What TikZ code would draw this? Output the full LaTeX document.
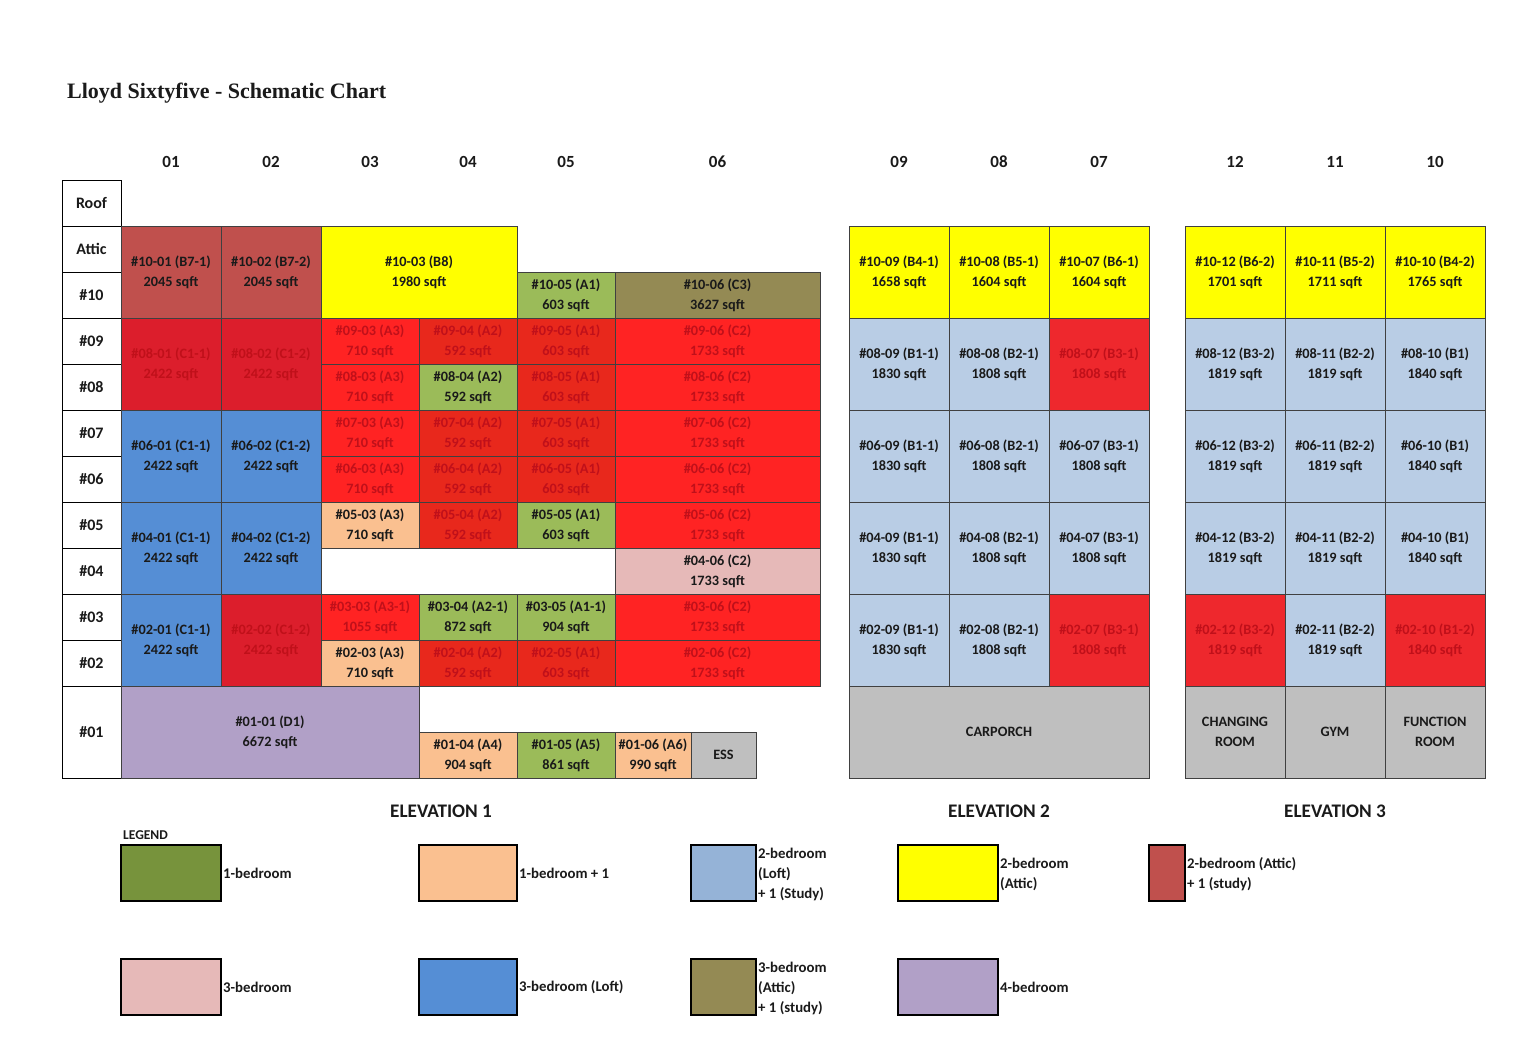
\documentclass[tikz,border=0pt]{standalone}
\usepackage{fontspec}
\setmainfont{Carlito}
\newfontfamily\titlefont{Liberation Serif}
\definecolor{brownred}{HTML}{C0504D}
\definecolor{yel}{HTML}{FFFF00}
\definecolor{grn}{HTML}{9BBB59}
\definecolor{lgrn}{HTML}{77933C}
\definecolor{olive}{HTML}{948A54}
\definecolor{crim}{HTML}{DC1E2C}
\definecolor{redA}{HTML}{FF2323}
\definecolor{redB}{HTML}{E8281C}
\definecolor{redC}{HTML}{EE282D}
\definecolor{redtxt}{HTML}{C0101A}
\definecolor{blu}{HTML}{558ED5}
\definecolor{lblu}{HTML}{B9CDE5}
\definecolor{lblu2}{HTML}{95B3D7}
\definecolor{peach}{HTML}{FAC090}
\definecolor{pink}{HTML}{E6B9B8}
\definecolor{lav}{HTML}{B1A0C7}
\definecolor{gry}{HTML}{BFBFBF}
\definecolor{ink}{HTML}{1A1A1A}
\tikzset{
  cell/.style={draw=black!75, line width=0.9pt, inner sep=0pt, outer sep=0pt, align=center, font=\fontsize{14.3}{20}\selectfont\bfseries},
  lab/.style={draw=black, line width=0.9pt, fill=white, inner sep=0pt, outer sep=0pt, text=ink, font=\fontsize{16}{20}\selectfont\bfseries},
  hdr/.style={inner sep=0pt, text=ink, font=\fontsize{17}{20}\selectfont\bfseries},
  elev/.style={inner sep=0pt, text=ink, font=\fontsize{19.2}{22}\selectfont\bfseries},
  legbox/.style={draw=black, line width=1.8pt, inner sep=0pt, outer sep=0pt},
  legtxt/.style={anchor=west, inner sep=0pt, align=left, text=ink, font=\fontsize{14.8}{20}\selectfont\bfseries}
}
\newcommand{\cellbox}[8]{%
  \node[cell, fill=#6, text=#7, minimum width={(#4)-(#2)}, minimum height={(#5)-(#3)}] (#1) at ({((#2)+(#4))/2},{((#3)+(#5))/2}) {#8};}
\newcommand{\legsq}[6]{%
  \node[legbox, fill=#6, minimum width={(#4)-(#2)}, minimum height={(#5)-(#3)}] (#1) at ({((#2)+(#4))/2},{((#3)+(#5))/2}) {};}
\begin{document}
\begin{tikzpicture}[x=1pt,y=-1pt]
\useasboundingbox (0,0) rectangle (1533,1041);
\fill[white] (0,0) rectangle (1533,1041);
% title
\node[anchor=base west, inner sep=0pt, text=ink, font=\titlefont\fontsize{22}{24}\selectfont\bfseries] (title) at (67,98) {Lloyd Sixtyfive - Schematic Chart};
% column headers
\foreach \n/\x in {01/171,02/271,03/370,04/468,05/566,06/717.5,09/899,08/999,07/1099,12/1235,11/1335,10/1435}
  \node[hdr] (h\n) at (\x,162) {\n};
% row labels
\foreach \t/\nm/\ya/\yb in {Roof/roof/180/226,Attic/attic/226/272,\#10/r10/272/318,\#09/r09/318/364,\#08/r08/364/410,\#07/r07/410/456,\#06/r06/456/502,\#05/r05/502/548,\#04/r04/548/594,\#03/r03/594/640,\#02/r02/640/686,\#01/r01/686/778}
  \node[lab, minimum width=59, minimum height={\yb-\ya}] (\nm) at (91.5,{(\ya+\yb)/2}) {\t};
% ===== Elevation 1 =====
\cellbox{u1001}{121}{226}{221}{318}{brownred}{ink}{\#10-01 (B7-1)\\2045 sqft}
\cellbox{u1002}{221}{226}{321}{318}{brownred}{ink}{\#10-02 (B7-2)\\2045 sqft}
\cellbox{u1003}{321}{226}{517}{318}{yel}{ink}{\#10-03 (B8)\\1980 sqft}
\cellbox{u1005}{517}{272}{615}{318}{grn}{ink}{\#10-05 (A1)\\603 sqft}
\cellbox{u1006}{615}{272}{820}{318}{olive}{ink}{\#10-06 (C3)\\3627 sqft}
\cellbox{u0801}{121}{318}{221}{410}{crim}{redtxt}{\#08-01 (C1-1)\\2422 sqft}
\cellbox{u0802}{221}{318}{321}{410}{crim}{redtxt}{\#08-02 (C1-2)\\2422 sqft}
\cellbox{u0903}{321}{318}{419}{364}{redA}{redtxt}{\#09-03 (A3)\\710 sqft}
\cellbox{u0904}{419}{318}{517}{364}{redB}{redtxt}{\#09-04 (A2)\\592 sqft}
\cellbox{u0905}{517}{318}{615}{364}{redB}{redtxt}{\#09-05 (A1)\\603 sqft}
\cellbox{u0906}{615}{318}{820}{364}{redA}{redtxt}{\#09-06 (C2)\\1733 sqft}
\cellbox{u0803}{321}{364}{419}{410}{redA}{redtxt}{\#08-03 (A3)\\710 sqft}
\cellbox{u0804}{419}{364}{517}{410}{grn}{ink}{\#08-04 (A2)\\592 sqft}
\cellbox{u0805}{517}{364}{615}{410}{redB}{redtxt}{\#08-05 (A1)\\603 sqft}
\cellbox{u0806}{615}{364}{820}{410}{redA}{redtxt}{\#08-06 (C2)\\1733 sqft}
\cellbox{u0601}{121}{410}{221}{502}{blu}{ink}{\#06-01 (C1-1)\\2422 sqft}
\cellbox{u0602}{221}{410}{321}{502}{blu}{ink}{\#06-02 (C1-2)\\2422 sqft}
\cellbox{u0703}{321}{410}{419}{456}{redA}{redtxt}{\#07-03 (A3)\\710 sqft}
\cellbox{u0704}{419}{410}{517}{456}{redB}{redtxt}{\#07-04 (A2)\\592 sqft}
\cellbox{u0705}{517}{410}{615}{456}{redB}{redtxt}{\#07-05 (A1)\\603 sqft}
\cellbox{u0706}{615}{410}{820}{456}{redA}{redtxt}{\#07-06 (C2)\\1733 sqft}
\cellbox{u0603}{321}{456}{419}{502}{redA}{redtxt}{\#06-03 (A3)\\710 sqft}
\cellbox{u0604}{419}{456}{517}{502}{redB}{redtxt}{\#06-04 (A2)\\592 sqft}
\cellbox{u0605}{517}{456}{615}{502}{redB}{redtxt}{\#06-05 (A1)\\603 sqft}
\cellbox{u0606}{615}{456}{820}{502}{redA}{redtxt}{\#06-06 (C2)\\1733 sqft}
\cellbox{u0401}{121}{502}{221}{594}{blu}{ink}{\#04-01 (C1-1)\\2422 sqft}
\cellbox{u0402}{221}{502}{321}{594}{blu}{ink}{\#04-02 (C1-2)\\2422 sqft}
\cellbox{u0503}{321}{502}{419}{548}{peach}{ink}{\#05-03 (A3)\\710 sqft}
\cellbox{u0504}{419}{502}{517}{548}{redB}{redtxt}{\#05-04 (A2)\\592 sqft}
\cellbox{u0505}{517}{502}{615}{548}{grn}{ink}{\#05-05 (A1)\\603 sqft}
\cellbox{u0506}{615}{502}{820}{548}{redA}{redtxt}{\#05-06 (C2)\\1733 sqft}
\cellbox{u0406}{615}{548}{820}{594}{pink}{ink}{\#04-06 (C2)\\1733 sqft}
\cellbox{u0201}{121}{594}{221}{686}{blu}{ink}{\#02-01 (C1-1)\\2422 sqft}
\cellbox{u0202}{221}{594}{321}{686}{crim}{redtxt}{\#02-02 (C1-2)\\2422 sqft}
\cellbox{u0303}{321}{594}{419}{640}{redA}{redtxt}{\#03-03 (A3-1)\\1055 sqft}
\cellbox{u0304}{419}{594}{517}{640}{grn}{ink}{\#03-04 (A2-1)\\872 sqft}
\cellbox{u0305}{517}{594}{615}{640}{grn}{ink}{\#03-05 (A1-1)\\904 sqft}
\cellbox{u0306}{615}{594}{820}{640}{redA}{redtxt}{\#03-06 (C2)\\1733 sqft}
\cellbox{u0203}{321}{640}{419}{686}{peach}{ink}{\#02-03 (A3)\\710 sqft}
\cellbox{u0204}{419}{640}{517}{686}{redB}{redtxt}{\#02-04 (A2)\\592 sqft}
\cellbox{u0205}{517}{640}{615}{686}{redB}{redtxt}{\#02-05 (A1)\\603 sqft}
\cellbox{u0206}{615}{640}{820}{686}{redA}{redtxt}{\#02-06 (C2)\\1733 sqft}
\cellbox{u0101}{121}{686}{419}{778}{lav}{ink}{\#01-01 (D1)\\6672 sqft}
\cellbox{u0104}{419}{732}{517}{778}{peach}{ink}{\#01-04 (A4)\\904 sqft}
\cellbox{u0105}{517}{732}{615}{778}{grn}{ink}{\#01-05 (A5)\\861 sqft}
\cellbox{u0106}{615}{732}{691}{778}{peach}{ink}{\#01-06 (A6)\\990 sqft}
\cellbox{ess}{691}{732}{756}{778}{gry}{ink}{ESS}
% ===== Elevation 2 =====
\cellbox{u1009}{849}{226}{949}{318}{yel}{ink}{\#10-09 (B4-1)\\1658 sqft}
\cellbox{u1008}{949}{226}{1049}{318}{yel}{ink}{\#10-08 (B5-1)\\1604 sqft}
\cellbox{u1007}{1049}{226}{1149}{318}{yel}{ink}{\#10-07 (B6-1)\\1604 sqft}
\cellbox{u0809}{849}{318}{949}{410}{lblu}{ink}{\#08-09 (B1-1)\\1830 sqft}
\cellbox{u0808}{949}{318}{1049}{410}{lblu}{ink}{\#08-08 (B2-1)\\1808 sqft}
\cellbox{u0807}{1049}{318}{1149}{410}{redC}{redtxt}{\#08-07 (B3-1)\\1808 sqft}
\cellbox{u0609}{849}{410}{949}{502}{lblu}{ink}{\#06-09 (B1-1)\\1830 sqft}
\cellbox{u0608}{949}{410}{1049}{502}{lblu}{ink}{\#06-08 (B2-1)\\1808 sqft}
\cellbox{u0607}{1049}{410}{1149}{502}{lblu}{ink}{\#06-07 (B3-1)\\1808 sqft}
\cellbox{u0409}{849}{502}{949}{594}{lblu}{ink}{\#04-09 (B1-1)\\1830 sqft}
\cellbox{u0408}{949}{502}{1049}{594}{lblu}{ink}{\#04-08 (B2-1)\\1808 sqft}
\cellbox{u0407}{1049}{502}{1149}{594}{lblu}{ink}{\#04-07 (B3-1)\\1808 sqft}
\cellbox{u0209}{849}{594}{949}{686}{lblu}{ink}{\#02-09 (B1-1)\\1830 sqft}
\cellbox{u0208}{949}{594}{1049}{686}{lblu}{ink}{\#02-08 (B2-1)\\1808 sqft}
\cellbox{u0207}{1049}{594}{1149}{686}{redC}{redtxt}{\#02-07 (B3-1)\\1808 sqft}
\cellbox{carporch}{849}{686}{1149}{778}{gry}{ink}{CARPORCH}
% ===== Elevation 3 =====
\cellbox{u1012}{1185}{226}{1285}{318}{yel}{ink}{\#10-12 (B6-2)\\1701 sqft}
\cellbox{u1011}{1285}{226}{1385}{318}{yel}{ink}{\#10-11 (B5-2)\\1711 sqft}
\cellbox{u1010}{1385}{226}{1485}{318}{yel}{ink}{\#10-10 (B4-2)\\1765 sqft}
\cellbox{u0812}{1185}{318}{1285}{410}{lblu}{ink}{\#08-12 (B3-2)\\1819 sqft}
\cellbox{u0811}{1285}{318}{1385}{410}{lblu}{ink}{\#08-11 (B2-2)\\1819 sqft}
\cellbox{u0810}{1385}{318}{1485}{410}{lblu}{ink}{\#08-10 (B1)\\1840 sqft}
\cellbox{u0612}{1185}{410}{1285}{502}{lblu}{ink}{\#06-12 (B3-2)\\1819 sqft}
\cellbox{u0611}{1285}{410}{1385}{502}{lblu}{ink}{\#06-11 (B2-2)\\1819 sqft}
\cellbox{u0610}{1385}{410}{1485}{502}{lblu}{ink}{\#06-10 (B1)\\1840 sqft}
\cellbox{u0412}{1185}{502}{1285}{594}{lblu}{ink}{\#04-12 (B3-2)\\1819 sqft}
\cellbox{u0411}{1285}{502}{1385}{594}{lblu}{ink}{\#04-11 (B2-2)\\1819 sqft}
\cellbox{u0410}{1385}{502}{1485}{594}{lblu}{ink}{\#04-10 (B1)\\1840 sqft}
\cellbox{u0212}{1185}{594}{1285}{686}{redC}{redtxt}{\#02-12 (B3-2)\\1819 sqft}
\cellbox{u0211}{1285}{594}{1385}{686}{lblu}{ink}{\#02-11 (B2-2)\\1819 sqft}
\cellbox{u0210}{1385}{594}{1485}{686}{redC}{redtxt}{\#02-10 (B1-2)\\1840 sqft}
\cellbox{changing}{1185}{686}{1285}{778}{gry}{ink}{CHANGING\\ROOM}
\cellbox{gym}{1285}{686}{1385}{778}{gry}{ink}{GYM}
\cellbox{function}{1385}{686}{1485}{778}{gry}{ink}{FUNCTION\\ROOM}
% elevation captions
\node[elev] (el1) at (441,811) {ELEVATION 1};
\node[elev] (el2) at (999,811) {ELEVATION 2};
\node[elev] (el3) at (1335,811) {ELEVATION 3};
% legend
\node[anchor=west, inner sep=0pt, text=ink, font=\fontsize{13.5}{14}\selectfont\bfseries] (legend) at (123,835) {LEGEND};
\legsq{lg1}{121}{845}{221}{901}{lgrn}
\legsq{lg2}{419}{845}{517}{901}{peach}
\legsq{lg3}{691}{845}{756}{901}{lblu2}
\legsq{lg4}{898}{845}{998}{901}{yel}
\legsq{lg5}{1149}{845}{1185}{901}{brownred}
\legsq{lg6}{121}{959}{221}{1015}{pink}
\legsq{lg7}{419}{959}{517}{1015}{blu}
\legsq{lg8}{691}{959}{756}{1015}{olive}
\legsq{lg9}{898}{959}{998}{1015}{lav}
\node[legtxt] (lt1) at ([xshift=2pt]lg1.east) {1-bedroom};
\node[legtxt] (lt2) at ([xshift=2pt]lg2.east) {1-bedroom + 1};
\node[legtxt] (lt3) at ([xshift=2pt,yshift=-1pt]lg3.east) {2-bedroom\\(Loft)\\+ 1 (Study)};
\node[legtxt] (lt4) at ([xshift=2pt,yshift=-1pt]lg4.east) {2-bedroom\\(Attic)};
\node[legtxt] (lt5) at ([xshift=2pt,yshift=-1pt]lg5.east) {2-bedroom (Attic)\\+ 1 (study)};
\node[legtxt] (lt6) at ([xshift=2pt]lg6.east) {3-bedroom};
\node[legtxt] (lt7) at ([xshift=2pt]lg7.east) {3-bedroom (Loft)};
\node[legtxt] (lt8) at ([xshift=2pt,yshift=-1pt]lg8.east) {3-bedroom\\(Attic)\\+ 1 (study)};
\node[legtxt] (lt9) at ([xshift=2pt]lg9.east) {4-bedroom};
\end{tikzpicture}
\end{document}
